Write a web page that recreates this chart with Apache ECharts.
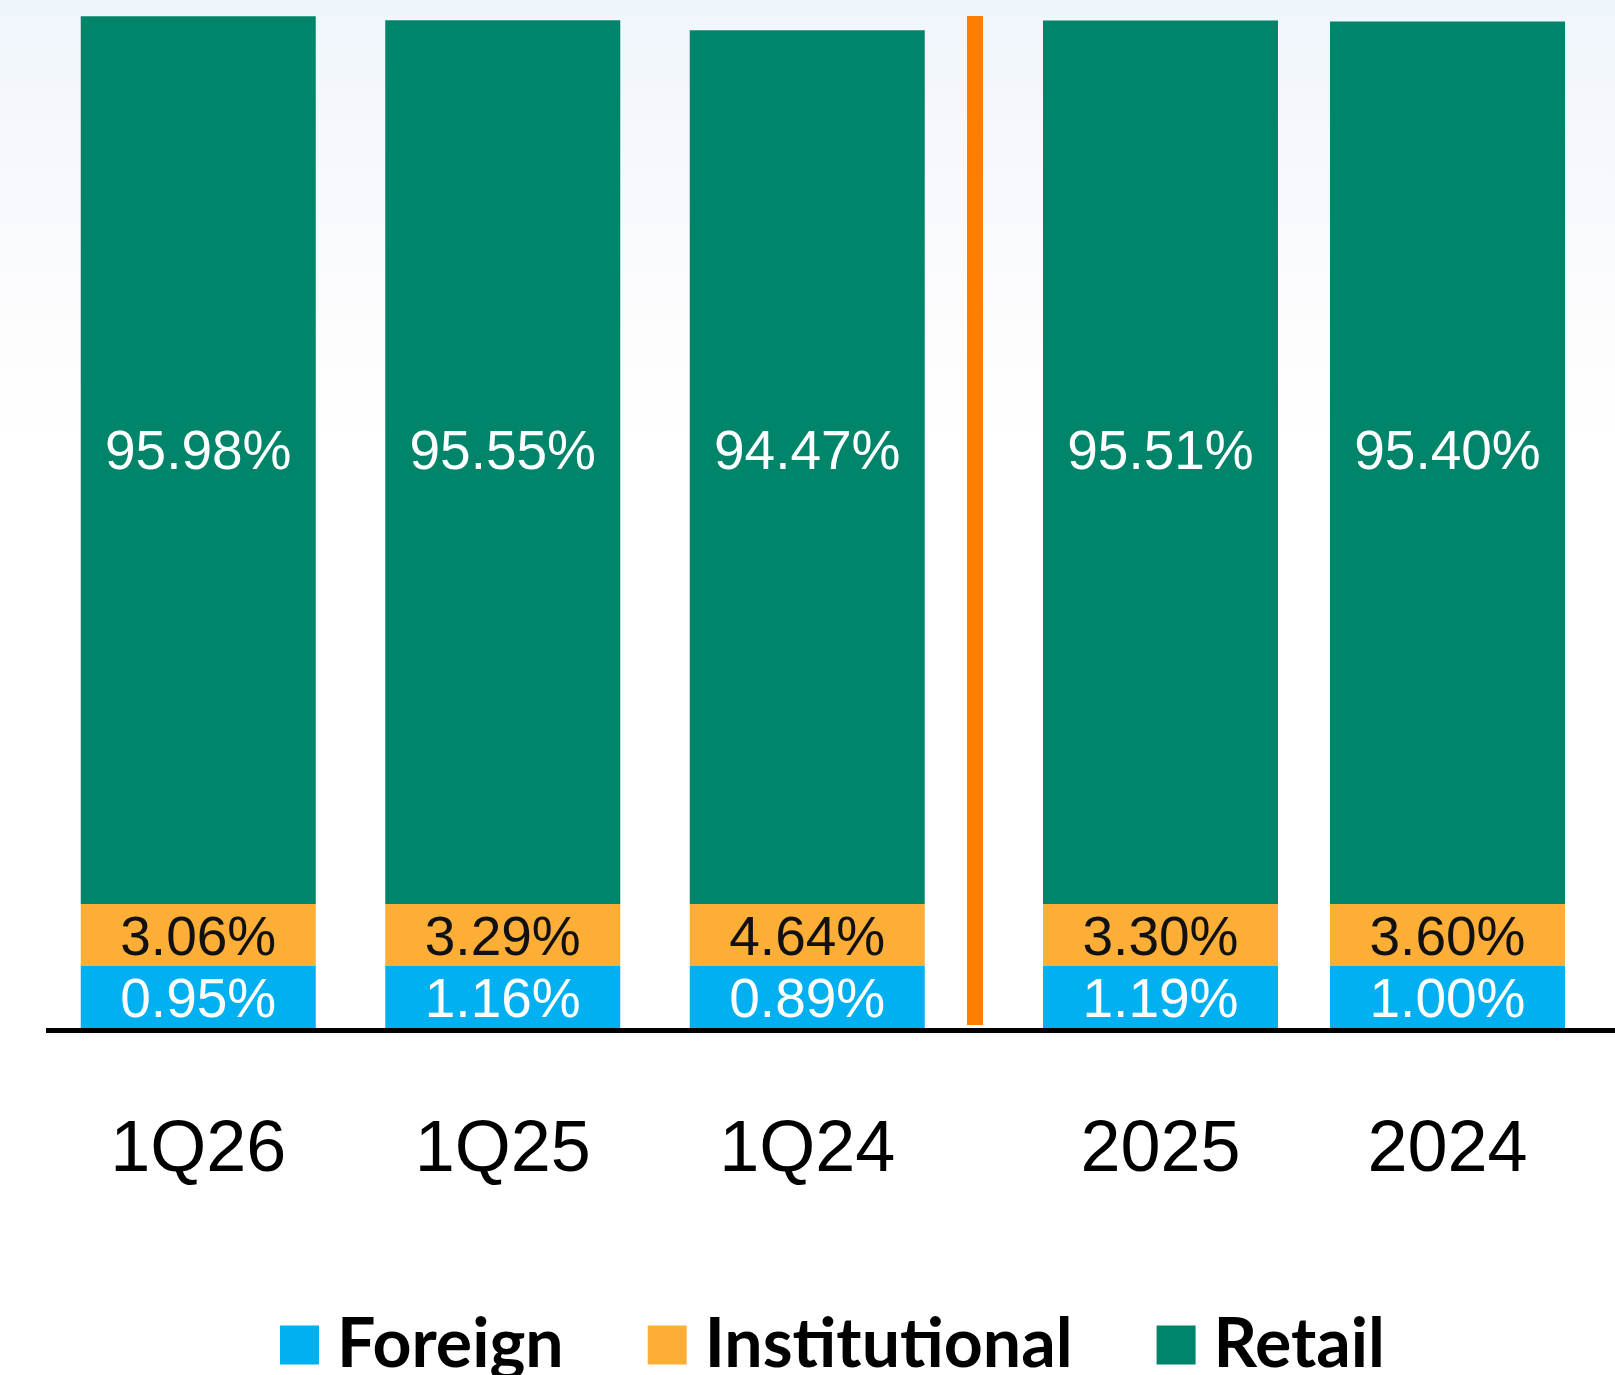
<!DOCTYPE html>
<html>
<head>
<meta charset="utf-8">
<script src="https://cdn.jsdelivr.net/npm/echarts@6/dist/echarts.min.js"></script>
<style>
  html, body { margin: 0; padding: 0; background: #fff; }
  #chart { width: 1615px; height: 1375px; }
</style>
</head>
<body>
<div id="chart"></div>
<script>
// ---- data ----
const quarterCategories = ['1Q26', '1Q25', '1Q24'];
const yearCategories = ['2025', '2024'];
const seriesNames = ['Foreign', 'Institutional', 'Retail'];
const foreignQuarter = [0.95, 1.16, 0.89];
const institutionalQuarter = [3.06, 3.29, 4.64];
const retailQuarter = [95.98, 95.55, 94.47];
const foreignYear = [1.19, 1.00];
const institutionalYear = [3.30, 3.60];
const retailYear = [95.51, 95.40];

// ---- styling / layout ----
const colors = { Foreign: '#00B0F0', Institutional: '#FCAE37', Retail: '#00846A' };
const labelColors = { Foreign: '#ffffff', Institutional: '#111111', Retail: '#ffffff' };
const valueFont = '"Liberation Sans", Arial, Helvetica, sans-serif';

// column groups (quarterly on the left, annual on the right)
const groups = [
  { left: 46, width: 913.5, cats: quarterCategories,
    values: { Foreign: foreignQuarter, Institutional: institutionalQuarter, Retail: retailQuarter } },
  { left: 1017, width: 574, cats: yearCategories,
    values: { Foreign: foreignYear, Institutional: institutionalYear, Retail: retailYear } }
];
// bands: the small shares get a compact band (bars shown with min height),
// the retail share is plotted on its own value scale above them
const bands = {
  Foreign:       { top: 966, height: 62, max: 100 },
  Institutional: { top: 904, height: 62, max: 100 },
  Retail:        { top: 16,  height: 888, max: 96 }
};

const grids = [], xAxes = [], yAxes = [], series = [];
groups.forEach(g => {
  seriesNames.forEach(name => {
    const b = bands[name];
    const idx = grids.length;
    grids.push({ left: g.left, width: g.width, top: b.top, height: b.height });
    xAxes.push({
      type: 'category',
      gridIndex: idx,
      data: g.cats,
      axisLine: { show: false },
      axisTick: { show: false },
      axisLabel: name === 'Foreign' ? {
        show: true,
        color: '#000',
        fontFamily: valueFont,
        fontSize: 72,
        margin: 87
      } : { show: false }
    });
    yAxes.push({
      type: 'value',
      gridIndex: idx,
      min: 0,
      max: b.max,
      show: false,
      splitLine: { show: false }
    });
    const isRetail = name === 'Retail';
    series.push({
      name: name,
      type: 'bar',
      xAxisIndex: idx,
      yAxisIndex: idx,
      data: g.values[name],
      barWidth: 235,
      barMinHeight: isRetail ? 0 : b.height,
      clip: false,
      itemStyle: { color: colors[name] },
      emphasis: { disabled: true },
      label: {
        show: true,
        position: isRetail ? 'insideBottom' : 'inside',
        distance: isRetail ? 423 : 0,
        offset: isRetail ? [0, 0] : [0, 5],
        formatter: p => Number(p.value).toFixed(2) + '%',
        color: labelColors[name],
        fontFamily: valueFont,
        fontSize: 55,
        fontWeight: 'normal'
      }
    });
  });
});

const chart = echarts.init(document.getElementById('chart'), null, { renderer: 'canvas' });
chart.setOption({
  animation: false,
  backgroundColor: {
    type: 'linear', x: 0, y: 0, x2: 0, y2: 1,
    colorStops: [
      { offset: 0, color: '#eff6fb' },
      { offset: 0.08, color: '#f4f7fc' },
      { offset: 0.17, color: '#f9fafe' },
      { offset: 0.25, color: '#fdfdfd' },
      { offset: 0.32, color: '#ffffff' },
      { offset: 1, color: '#ffffff' }
    ]
  },
  legend: {
    data: seriesNames,
    left: 275,
    top: 1306,
    icon: 'rect',
    itemWidth: 39,
    itemHeight: 39,
    itemGap: 84,
    selectedMode: false,
    textStyle: {
      fontFamily: 'Lato, "Open Sans", sans-serif',
      fontWeight: 'bold',
      fontSize: 68,
      color: '#000',
      padding: [0, 0, 0, 13]
    }
  },
  grid: grids,
  xAxis: xAxes,
  yAxis: yAxes,
  graphic: [
    {
      type: 'line', z: 10,
      shape: { x1: 46, y1: 1030.5, x2: 1615, y2: 1030.5 },
      style: { stroke: '#000', lineWidth: 5 }
    },
    {
      type: 'rect', z: 10,
      shape: { x: 967, y: 16, width: 16, height: 1009 },
      style: { fill: '#FF7E00' }
    }
  ],
  series: series
});
</script>
</body>
</html>
